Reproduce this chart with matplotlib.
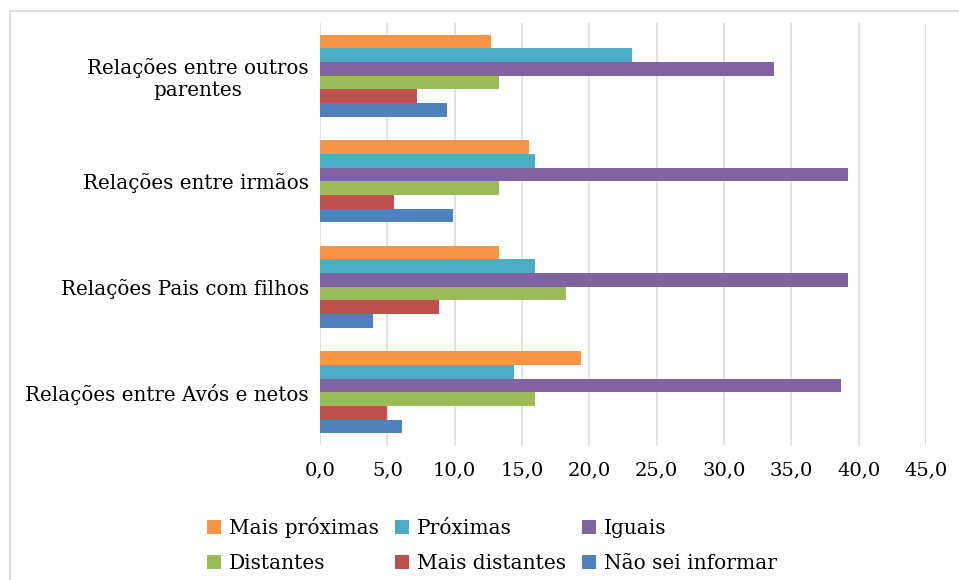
import numpy as np
import matplotlib
matplotlib.use("Agg")
import matplotlib.pyplot as plt
from matplotlib.lines import Line2D

plt.rcParams['font.family'] = ['DejaVu Serif']

categories = ['Relações entre Avós e netos', 'Relações Pais com filhos',
              'Relações entre irmãos', 'Relações entre outros\nparentes']
series_names = ['Mais próximas', 'Próximas', 'Iguais',
                'Distantes', 'Mais distantes', 'Não sei informar']
mais_proximas = [19.4, 13.3, 15.5, 12.7]
proximas = [14.4, 16.0, 16.0, 23.2]
iguais = [38.7, 39.2, 39.2, 33.7]
distantes = [16.0, 18.3, 13.3, 13.3]
mais_distantes = [5.0, 8.8, 5.5, 7.2]
nao_sei = [6.1, 3.9, 9.9, 9.4]
x_ticks = [0, 5, 10, 15, 20, 25, 30, 35, 40, 45]

values = [mais_proximas, proximas, iguais, distantes, mais_distantes, nao_sei]
colors = ['#F79646', '#4BACC6', '#8064A2', '#9BBB59', '#C0504D', '#4F81BD']

fig = plt.figure(figsize=(9.59, 5.8), dpi=100)
ax = fig.add_axes([320 / 959, 1 - 445 / 580, (926 - 320) / 959, (445 - 23) / 580])

y = np.arange(len(categories))
h = 0.13
handles = []
for i, (name, vals, c) in enumerate(zip(series_names, values, colors)):
    # first series sits on top of each group
    b = ax.barh(y + (2.5 - i) * h, vals, height=h, color=c, label=name, zorder=3)
    handles.append(b)

ax.set_ylim(-0.5, len(categories) - 0.5)
ax.set_xlim(0, 45)
ax.set_xticks(x_ticks)
ax.set_xticklabels([f'{v:.1f}'.replace('.', ',') for v in x_ticks], fontsize=14)
ax.set_yticks(y)
ax.set_yticklabels(categories, fontsize=14.3, ha='right', multialignment='center')
ax.tick_params(axis='y', length=0, pad=8)
ax.tick_params(axis='x', length=0, pad=12)
ax.grid(axis='x', color='#D9D9D9', linewidth=1.1, zorder=0)
for s in ax.spines.values():
    s.set_visible(False)

# chart frame (cropped on the right and bottom)
fig.add_artist(Line2D([10 / 959, 10 / 959], [0, 1 - 11 / 580], color='#D9D9D9',
                      linewidth=1.2, transform=fig.transFigure))
fig.add_artist(Line2D([10 / 959, 1], [1 - 11 / 580, 1 - 11 / 580], color='#D9D9D9',
                      linewidth=1.2, transform=fig.transFigure))

# legend is filled row by row in the original
order = [0, 3, 1, 4, 2, 5]
fig.legend([handles[k] for k in order], [series_names[k] for k in order],
           loc='center', bbox_to_anchor=(0.513, 0.06), ncol=3, frameon=False,
           fontsize=14.5, handlelength=0.7, handleheight=0.7, handletextpad=0.4,
           columnspacing=0.78, labelspacing=0.8)

fig.savefig('out.png', dpi=100)
